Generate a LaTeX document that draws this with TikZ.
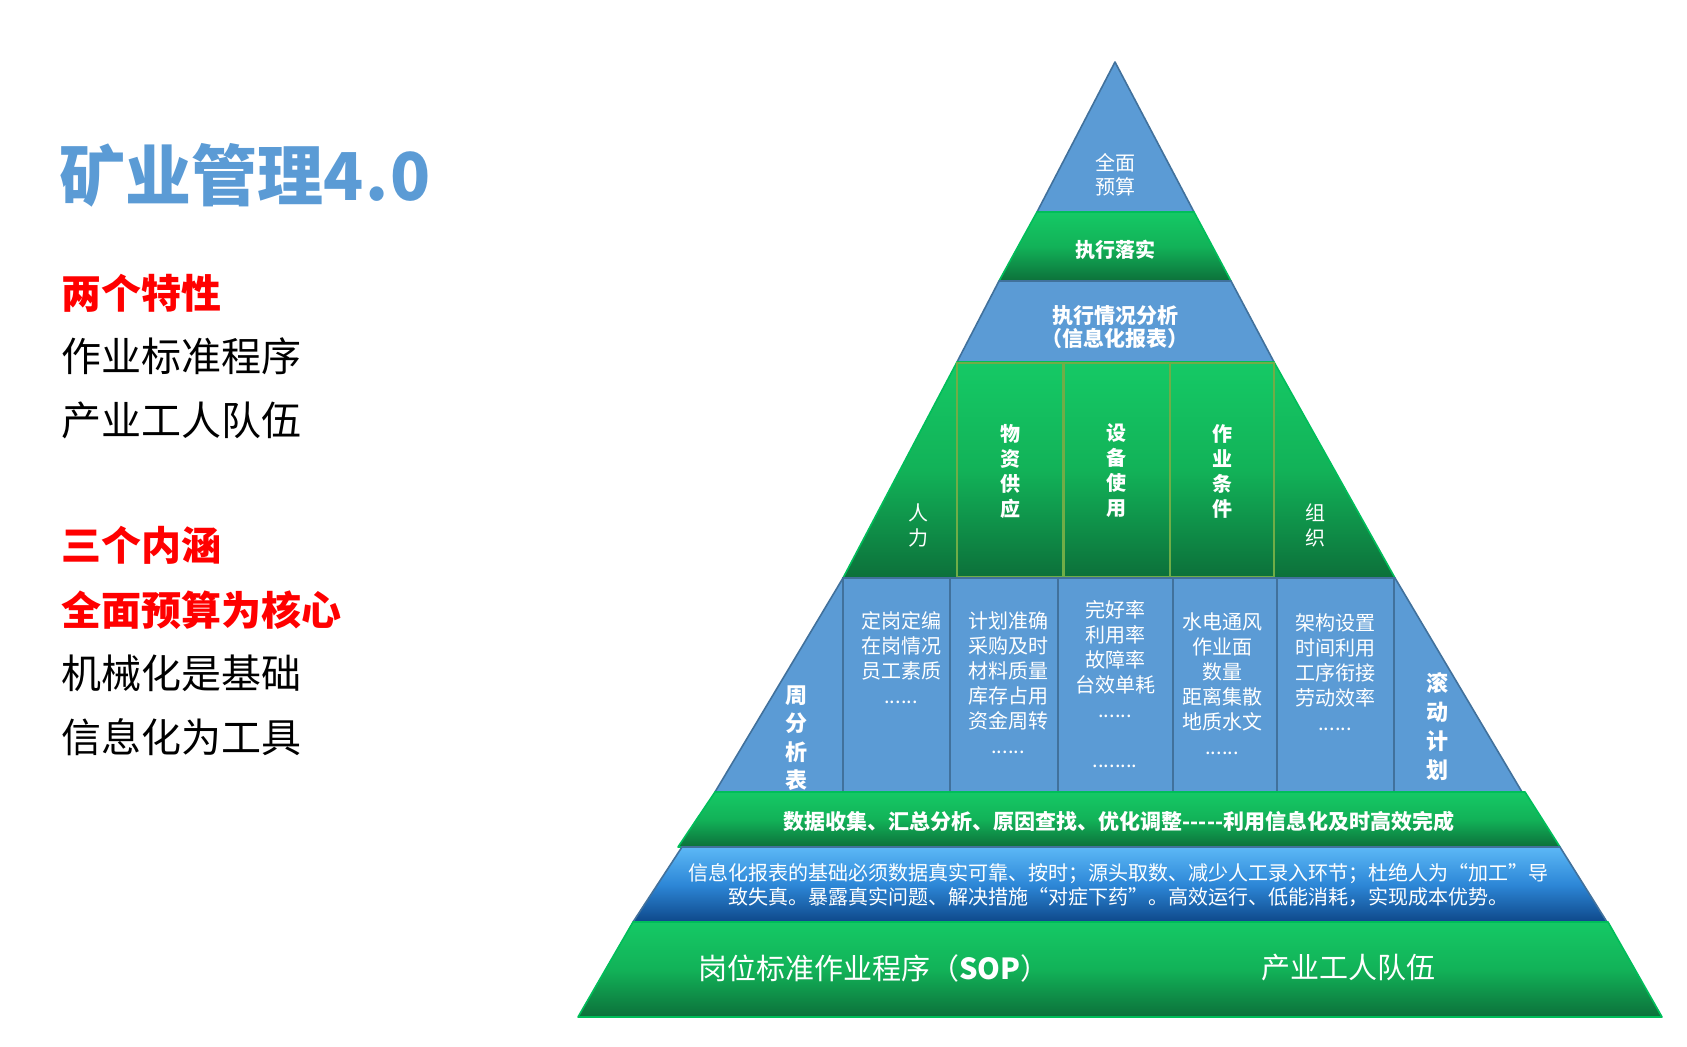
\documentclass[tikz,border=0pt]{standalone}
\usepackage{fontspec}
\setmainfont{Noto Sans CJK SC}

\definecolor{pyblue}{RGB}{91,155,213}
\definecolor{pyline}{RGB}{65,113,156}
\definecolor{grtop}{RGB}{21,201,101}
\definecolor{grmid}{RGB}{18,178,88}
\definecolor{grbot}{RGB}{12,112,58}
\definecolor{grline}{RGB}{0,190,90}
\definecolor{colline}{RGB}{112,173,71}
\definecolor{skytop}{RGB}{92,184,246}
\definecolor{skymid}{RGB}{45,135,215}
\definecolor{skybot}{RGB}{14,72,138}
\definecolor{titleblue}{RGB}{91,155,213}
\definecolor{keyred}{RGB}{255,0,0}

\begin{document}
\begin{tikzpicture}[
	x=0.5pt, y=-0.5pt,
	bluelayer/.style={ fill=pyblue, draw=pyline, line width=0.8pt, line join=round },
	greenlayer/.style={ top color=grtop, bottom color=grbot, middle color=grmid, draw=grline, line width=0.8pt, line join=round },
	skylayer/.style={ top color=skytop, bottom color=skybot, middle color=skymid, draw=pyline, line width=0.8pt, line join=round },
	greencol/.style={ top color=grtop, bottom color=grbot, middle color=grmid, draw=colline, line width=0.8pt },
	bluecol/.style={ draw=pyline, line width=1pt },
	pytext/.style={ text=white, align=center, inner sep=0pt, font=\fontsize{10}{12.5}\selectfont },
	pybold/.style={ pytext, font=\fontsize{10}{12.5}\selectfont\bfseries },
	sideitem/.style={ anchor=west, inner sep=0pt, text=black, font=\fontsize{20}{24}\selectfont },
	sidekey/.style={ sideitem, text=keyred, font=\fontsize{20}{24}\selectfont\bfseries }
]
\useasboundingbox (0,0) rectangle (1687,1046);

% pyramid layers, top to bottom
\filldraw[bluelayer] (1115,62) -- (1194,212) -- (1037,212) -- cycle;
\filldraw[greenlayer] (1037,212) -- (1194,212) -- (1231,281) -- (999,281) -- cycle;
\filldraw[bluelayer] (999,281) -- (1231,281) -- (1274,362) -- (957,362) -- cycle;
\filldraw[greenlayer] (957,362) -- (1274,362) -- (1395,578) -- (843,578) -- cycle;
\foreach \xa/\xb in {957/1063,1064/1170,1170/1274} \filldraw[greencol] (\xa,363) rectangle (\xb,577);
\filldraw[bluelayer] (843,578) -- (1395,578) -- (1522,792) -- (715,792) -- cycle;
\foreach \xa/\xb in {843/950,950/1058,1058/1173,1173/1277,1277/1394} \draw[bluecol] (\xa,578) rectangle (\xb,792);
\filldraw[greenlayer] (715,792) -- (1525,792) -- (1560,847) -- (678,847) -- cycle;
\filldraw[skylayer] (682,847) -- (1560,847) -- (1607,922) -- (633,922) -- cycle;
\filldraw[greenlayer] (633,922) -- (1608,922) -- (1662,1017) -- (578,1017) -- cycle;

% layer texts
\node at (1115,175) (qmys) [pytext, font=\fontsize{10}{12}\selectfont] {全面\\预算};
\node at (1115,250) (zxls) [pybold] {执行落实};
\node at (1115,327) (zxfx) [pybold, font=\fontsize{10.5}{11.5}\selectfont\bfseries] {执行情况分析\\（信息化报表）};

\node at (918,525) (rl) [pytext] {人\\力};
\node at (1010,471) (wzgy) [pybold] {物\\资\\供\\应};
\node at (1116,471) (sbsy) [pybold] {设\\备\\使\\用};
\node at (1222,471) (zytj) [pybold] {作\\业\\条\\件};
\node at (1315,525) (zz) [pytext] {组\\织};

\node at (796,738) (zfxb) [pybold, font=\fontsize{11}{14.2}\selectfont\bfseries] {周\\分\\析\\表};
\node at (901,658) (rlnr) [pytext] {定岗定编\\在岗情况\\员工素质\\......};
\node at (1008,683) (wznr) [pytext] {计划准确\\采购及时\\材料质量\\库存占用\\资金周转\\......};
\node at (1115,684) (sbnr) [pytext] {完好率\\利用率\\故障率\\台效单耗\\......\\[12.5pt]........};
\node at (1222,684) (zynr) [pytext] {水电通风\\作业面\\数量\\距离集散\\地质水文\\......};
\node at (1335,672) (zznr) [pytext] {架构设置\\时间利用\\工序衔接\\劳动效率\\......};
\node at (1437,727) (gdjh) [pybold, font=\fontsize{11}{14.5}\selectfont\bfseries] {滚\\动\\计\\划};

\node at (1119,821) (sjsj) [pybold, font=\fontsize{10.5}{12}\selectfont\bfseries] {数据收集、汇总分析、原因查找、优化调整-\kern0pt-\kern0pt-\kern0pt-\kern0pt-利用信息化及时高效完成};
\node at (1118,885) (xxhbb) [pytext, font=\fontsize{10}{12}\selectfont] {信息化报表的基础必须数据真实可靠、按时；源头取数、减少人工录入环节；杜绝人为“加工”导\\致失真。暴露真实问题、解决措施“对症下药”。高效运行、低能消耗，实现成本优势。};
\node at (874,968) (sop) [pytext, font=\fontsize{14.5}{17}\selectfont] {岗位标准作业程序（\textbf{SOP}）};
\node at (1348,968) (cygr) [pytext, font=\fontsize{14.5}{17}\selectfont] {产业工人队伍};

% left column
\node at (59,175) (title) [anchor=west, inner sep=0pt, text=titleblue, font=\fontsize{33}{40}\selectfont\bfseries] {矿业管理4\kern1pt.\kern1pt0};
\node at (61,293) (lgtx) [sidekey] {两个特性};
\node at (61,356) (zybz) [sideitem] {作业标准程序};
\node at (61,420) (cygrl) [sideitem] {产业工人队伍};
\node at (61,545) (sgnh) [sidekey] {三个内涵};
\node at (61,610) (qmhx) [sidekey] {全面预算为核心};
\node at (61,673) (jxh) [sideitem] {机械化是基础};
\node at (61,737) (xxh) [sideitem] {信息化为工具};

\end{tikzpicture}
\end{document}
